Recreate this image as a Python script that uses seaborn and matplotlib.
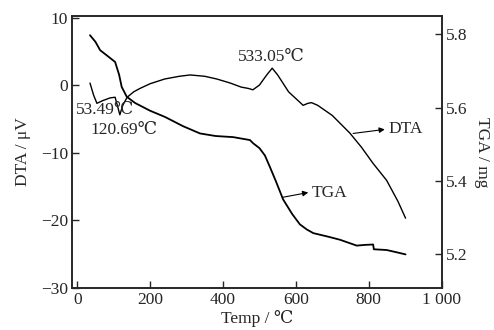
import numpy as np
import pandas as pd
import seaborn as sns
import matplotlib.pyplot as plt

### data
# DTA curve (left axis, uV)
dta_temp = [35, 45, 54, 70, 90, 104, 110, 117, 125, 137, 155, 172, 200, 240, 280, 310,
            350, 383, 420, 450, 470, 482, 500, 520, 535, 550, 580, 620, 633, 643, 660,
            700, 748, 780, 812, 849, 880, 901]
dta_val = [0.3, -1.5, -2.7, -2.3, -1.9, -1.8, -3.0, -4.4, -3.0, -1.8, -1.0, -0.5, 0.2,
           0.9, 1.3, 1.5, 1.3, 0.9, 0.3, -0.3, -0.5, -0.7, 0.0, 1.5, 2.5, 1.5, -1.0, -3.0,
           -2.7, -2.6, -3.0, -4.5, -7.1, -9.2, -11.6, -14.1, -17.2, -19.7]

# TGA curve (right axis, mg)
tga_temp = [35, 50, 63, 85, 104, 115, 122, 136, 159, 200, 241, 290, 337, 380,
            428, 474, 483, 500, 515, 529, 545, 565, 590, 611, 630, 648, 690, 721, 767,
            790, 812, 814, 849, 880, 901]
tga_val = [5.798, 5.78, 5.757, 5.74, 5.725, 5.69, 5.657, 5.63, 5.613, 5.592, 5.575,
           5.55, 5.53, 5.523, 5.52, 5.512, 5.503, 5.49, 5.47, 5.438,
           5.40, 5.35, 5.31, 5.282, 5.268, 5.258, 5.248, 5.24, 5.224, 5.226, 5.227,
           5.214, 5.212, 5.205, 5.2]

dta_df = pd.DataFrame({"Temp": dta_temp, "DTA": dta_val})
tga_df = pd.DataFrame({"Temp": tga_temp, "TGA": tga_val})

### style
sns.set_style("ticks")
plt.rcParams['font.family'] = ['Liberation Serif', 'DejaVu Serif']
plt.rcParams['font.size'] = 12.5
plt.rcParams['xtick.direction'] = 'in'
plt.rcParams['ytick.direction'] = 'in'
plt.rcParams['axes.linewidth'] = 1.2

fig = plt.figure(figsize=(4.94, 3.30), dpi=100)
ax = fig.add_axes([0.146, 0.128, 0.748, 0.823])
ax2 = ax.twinx()

sns.lineplot(data=dta_df, x="Temp", y="DTA", ax=ax, color="black", linewidth=1.0)
sns.lineplot(data=tga_df, x="Temp", y="TGA", ax=ax2, color="black", linewidth=1.3)

ax.set_xlim(-14, 1000)
ax.set_ylim(-30, 10.2)
ax.set_xticks([0, 200, 400, 600, 800, 1000])
ax.set_xticklabels(["0", "200", "400", "600", "800", "1 000"])
ax.set_yticks([-30, -20, -10, 0, 10])
ax.set_yticklabels(["\u221230", "\u221220", "\u221210", "0", "10"])
ax2.set_ylim(5.109, 5.85)
ax2.set_yticks([5.2, 5.4, 5.6, 5.8])

ax.tick_params(length=5, width=1.0, labelsize=12.5, pad=3)
ax2.tick_params(length=5, width=1.0, labelsize=12.5, pad=3)

ax.set_xlabel("Temp / \u2103", fontsize=12.5, labelpad=1.5)
ax.set_ylabel("DTA / \u03bcV", fontsize=12.5, labelpad=7)
ax2.set_ylabel("TGA / mg", fontsize=12.5, rotation=-90, labelpad=16)

# peak labels
ax.text(532, 4.15, "533.05\u2103", ha="center", va="center", fontsize=12.5)
ax.text(-3, -3.7, "53.49\u2103", ha="left", va="center", fontsize=12.5)
ax.text(35, -6.67, "120.69\u2103", ha="left", va="center", fontsize=12.5)

# curve labels with arrows pointing from the curve to the text
arrow = dict(arrowstyle="-|>", color="black", lw=0.8, mutation_scale=8,
             shrinkA=0, shrinkB=0)
ax.annotate("", xy=(844, -6.56), xytext=(757, -7.16), arrowprops=arrow)
ax.text(853, -6.5, "DTA", ha="left", va="center", fontsize=12.5)
ax.annotate("", xy=(634, -15.9), xytext=(565, -16.6), arrowprops=arrow)
ax.text(644, -16.0, "TGA", ha="left", va="center", fontsize=12.5)

fig.savefig("out.png", dpi=100)
